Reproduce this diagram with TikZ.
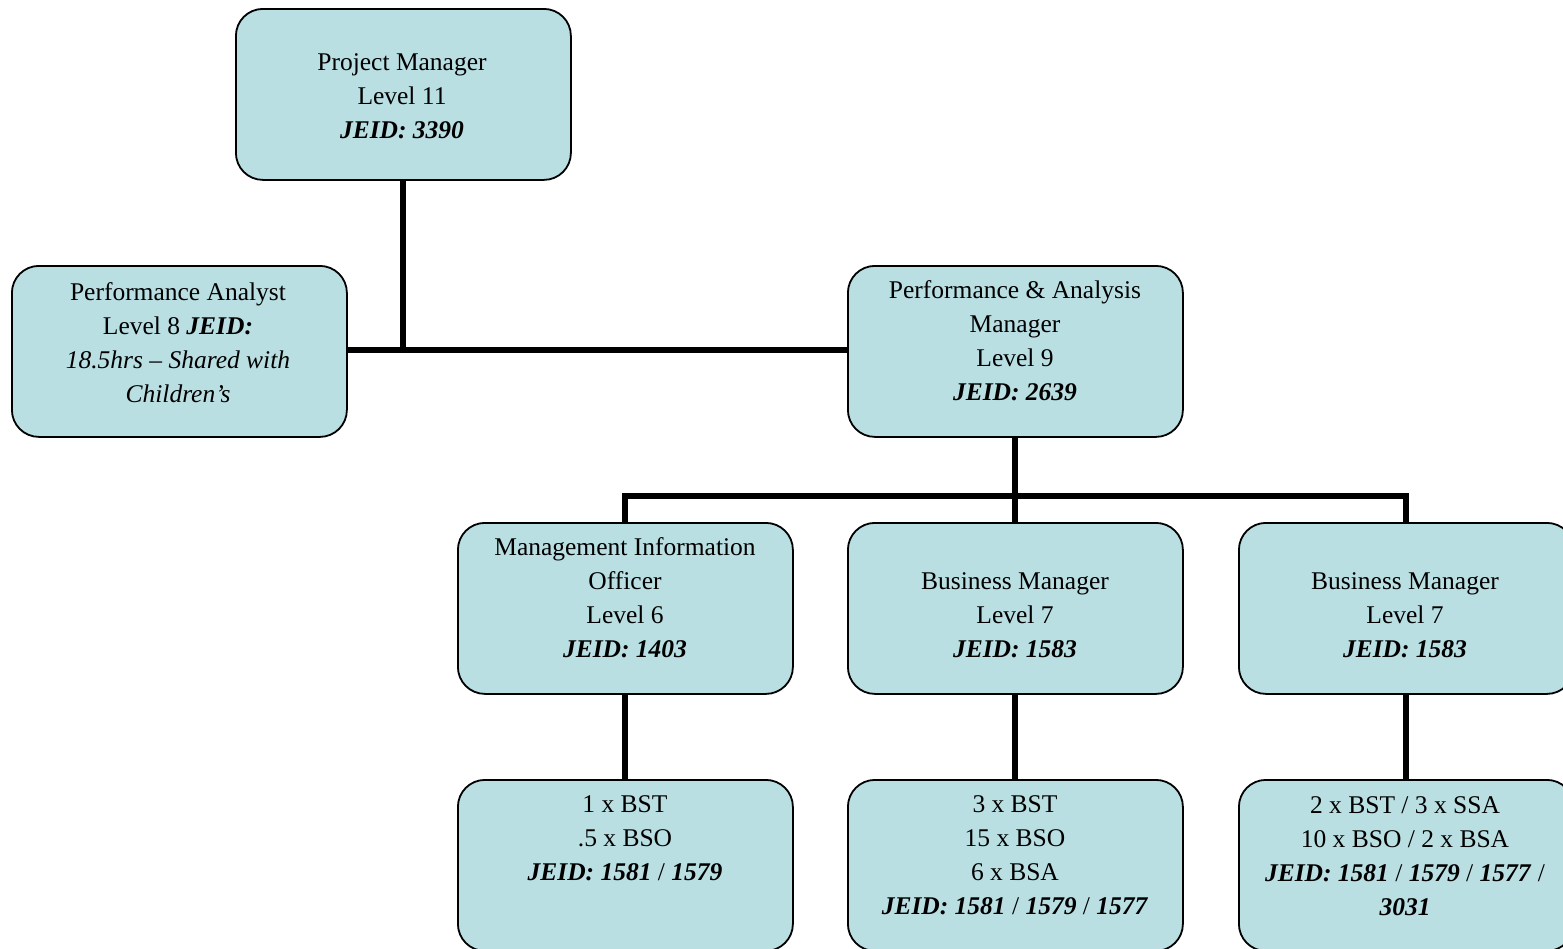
\documentclass[tikz,border=0pt]{standalone}
\usepackage{fontspec}
\setmainfont{Liberation Serif}
\definecolor{boxfill}{RGB}{185,223,227}
\tikzset{
  post/.style={draw=black, line width=1.8pt, fill=boxfill, rounded corners=27pt,
    minimum width=335pt, minimum height=171pt, inner sep=0pt, anchor=north west},
  % anchored at the baseline of the last line
  txt/.style={align=center, inner sep=0pt, anchor=base,
    font=\fontsize{25.5}{34}\selectfont},
  link/.style={draw=black, line width=6pt, line join=miter}
}
\newcommand{\jeid}[1]{\textbf{\textit{#1}}}
\begin{document}
\begin{tikzpicture}[x=1pt, y=-1pt]
\useasboundingbox (0,0) rectangle (1563,948);
\clip (0,0) rectangle (1563,948);

% boxes
\node[post] (pm)   at (235,8)   {};
\node[post] (pa)   at (11,265)  {};
\node[post] (pam)  at (847,265) {};
\node[post] (mio)  at (457,522) {};
\node[post] (bm1)  at (847,522) {};
\node[post] (bm2)  at (1238,522) {};
\node[post] (st1)  at (457,779) {};
\node[post] (st2)  at (847,779) {};
\node[post] (st3)  at (1238,779) {};

% junction points of the connector lines
\coordinate (pmfoot) at (pm.south |- 0,350);
\coordinate (splitL) at (mio.north |- 0,496);
\coordinate (splitR) at (bm2.north |- 0,496);

% connectors
\draw[link] (pm.south) -- (pmfoot);
\draw[link] (pa.east |- pmfoot) -- (pam.west |- pmfoot);
\draw[link] (pam.south) -- (bm1.north);
\draw[link] (mio.north) -- (splitL) -- (splitR) -- (bm2.north);
\draw[link] (mio.south) -- (st1.north);
\draw[link] (bm1.south) -- (st2.north);
\draw[link] (bm2.south) -- (st3.north);

% texts
\node[txt] (pmT) at (402,138) {Project Manager\\Level 11\\\jeid{JEID: 3390}};
\node[txt] (paT) at (178,402) {Performance Analyst\\Level 8 \jeid{JEID:}\\\textit{18.5hrs – Shared with}\\\textit{Children’s}};
\node[txt] (pamT) at (1015,400) {Performance \& Analysis\\Manager\\Level 9\\\jeid{JEID: 2639}};
\node[txt] (mioT) at (625,657) {Management Information\\Officer\\Level 6\\\jeid{JEID: 1403}};
\node[txt] (bm1T) at (1015,657) {Business Manager\\Level 7\\\jeid{JEID: 1583}};
\node[txt] (bm2T) at (1405,657) {Business Manager\\Level 7\\\jeid{JEID: 1583}};
\node[txt] (st1T) at (625,880) {1 x BST\\.5 x BSO\\\jeid{JEID: 1581} / \jeid{1579}};
\node[txt] (st2T) at (1015,914) {3 x BST\\15 x BSO\\6 x BSA\\\jeid{JEID: 1581} / \jeid{1579} / \jeid{1577}};
\node[txt] (st3T) at (1405,915) {2 x BST / 3 x SSA\\10 x BSO / 2 x BSA\\\jeid{JEID: 1581} / \jeid{1579} / \jeid{1577} /\\\jeid{3031}};
\end{tikzpicture}
\end{document}
